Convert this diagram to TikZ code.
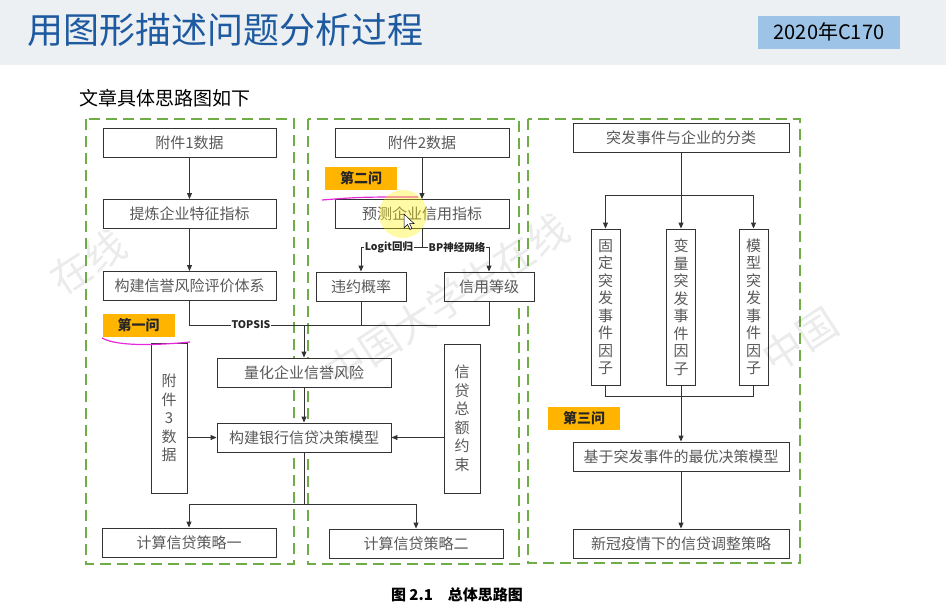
\documentclass[tikz,border=0pt]{standalone}
\usepackage{fontspec}
\setmainfont{Noto Sans CJK SC}
\usetikzlibrary{arrows.meta,positioning,calc}
\definecolor{headgray}{RGB}{236, 240, 243}
\definecolor{titleblue}{RGB}{30, 90, 160}
\definecolor{badgeblue}{RGB}{157, 195, 230}
\definecolor{groupgreen}{RGB}{112, 173, 71}
\definecolor{tagorange}{RGB}{255, 180, 0}
\definecolor{penpink}{RGB}{230, 40, 220}
\tikzset{
    box/.style={draw=black!80, line width=0.9pt, fill=white, text=black!65, minimum height=29pt, inner sep=0pt, font=\fontsize{15}{17}\selectfont},
    vbox/.style={box, align=center, font=\fontsize{15}{18.5}\selectfont},
    tag/.style={fill=tagorange, text=black!85, font=\fontsize{14}{16}\selectfont\bfseries, minimum width=72pt, minimum height=23pt, inner sep=0pt},
    group/.style={draw=groupgreen, line width=1.6pt, dash pattern=on 11pt off 6pt},
    link/.style={draw=black!80, line width=0.9pt},
    arr/.style={link, -{Triangle[length=6pt,width=5pt]}},
    lbl/.style={fill=white, inner sep=1pt, text=black!85, font=\fontsize{10.5}{12}\selectfont\bfseries},
    watermark/.style={rotate=33, text=black, text opacity=0.08, font=\fontsize{40}{42}\selectfont}
}
\begin{document}
\begin{tikzpicture}[x=1pt, y=-1pt]
    \useasboundingbox (0,0) rectangle (946,614);
    % header
    \fill[headgray] (0,0) rectangle (946,65);
    \node[anchor=west, text=titleblue, font=\fontsize{36}{38}\selectfont] (title) at (24,30) {用图形描述问题分析过程};
    \node[fill=badgeblue, minimum width=142pt, minimum height=33pt, inner sep=0pt, font=\fontsize{20}{22}\selectfont] (year) at (829,32) {2020年C170};
    \node[anchor=west, font=\fontsize{19}{21}\selectfont] (intro) at (76,98) {文章具体思路图如下};

    % three dashed groups
    \draw[group] (86,119) rectangle (294,564);
    \draw[group] (308,119) rectangle (519,564);
    \draw[group] (528,119) rectangle (800,563);

    % first question
    \node[box, minimum width=173pt] (fj1) at (189.5,142.5) {附件1数据};
    \node[box, minimum width=173pt] (tl) at (189.5,214) {提炼企业特征指标};
    \node[box, minimum width=173pt] (gj) at (189.5,286) {构建信誉风险评价体系};
    \node[tag] (q1) at (138.5,325.5) {第一问};

    % second question
    \node[box, minimum width=174pt] (fj2) at (422,142.5) {附件2数据};
    \node[tag] (q2) at (361,178.5) {第二问};
    \node[box, minimum width=174pt] (yc) at (422,214) {预测企业信用指标};
    \node[box, minimum width=90pt] (wy) at (361,286.5) {违约概率};
    \node[box, minimum width=90pt] (xy) at (489,286.5) {信用等级};

    % credit model
    \node[box, minimum width=174pt] (lh) at (304,372.5) {量化企业信誉风险};
    \node[box, minimum width=174pt] (jg) at (304,437.5) {构建银行信贷决策模型};
    \node[vbox, minimum width=36pt, minimum height=150pt] (fj3) at (169,418) {附\\件\\3\\数\\据};
    \node[vbox, minimum width=36pt, minimum height=149pt] (xd) at (462,418.5) {信\\贷\\总\\额\\约\\束};
    \node[box, minimum width=174pt] (cl1) at (189,542.5) {计算信贷策略一};
    \node[box, minimum width=174pt] (cl2) at (416,543.5) {计算信贷策略二};

    % third question
    \node[box, minimum width=216pt] (fl) at (681,137.5) {突发事件与企业的分类};
    \node[vbox, minimum width=29pt, minimum height=156pt, font=\fontsize{15}{17.5}\selectfont] (gd) at (605.5,307) {固\\定\\突\\发\\事\\件\\因\\子};
    \node[vbox, minimum width=29pt, minimum height=156pt, font=\fontsize{15}{17.5}\selectfont] (bl) at (681,307) {变\\量\\突\\发\\事\\件\\因\\子};
    \node[vbox, minimum width=29pt, minimum height=156pt, font=\fontsize{15}{17.5}\selectfont] (mx) at (753.5,307) {模\\型\\突\\发\\事\\件\\因\\子};
    \node[tag] (q3) at (584,418.5) {第三问};
    \node[box, minimum width=216pt] (jy) at (681,456.5) {基于突发事件的最优决策模型};
    \node[box, minimum width=216pt] (xg) at (681,543.5) {新冠疫情下的信贷调整策略};

    % connectors, left and middle
    \draw[arr] (fj1) -- (tl);
    \draw[arr] (tl) -- (gj);
    \coordinate (tp) at (304,325);
    \draw[link] (gj.south) |- (tp);
    \draw[link] (xy.south) |- (tp);
    \draw[link] (wy.south) -- (wy.south |- tp);
    \draw[arr] (tp) -- (lh.north);
    \node[lbl] (topsis) at (251,325) {TOPSIS};
    \draw[arr] (fj2.south -| yc.north) -- (yc.north);
    \coordinate (sp) at (422,247);
    \draw[link] (yc.south) -- (sp);
    \draw[arr] (sp) -| (wy.north);
    \draw[arr] (sp) -| (xy.north);
    \node[lbl] (logit) at (389,247) {Logit回归};
    \node[lbl] (bp) at (457,247) {BP神经网络};
    \draw[arr] (lh) -- (jg);
    \draw[arr] (fj3.east |- jg) -- (jg.west);
    \draw[arr] (xd.west |- jg) -- (jg.east);
    \coordinate (dv) at (304,504);
    \draw[link] (jg.south) -- (dv);
    \draw[arr] (dv) -| (cl1.north);
    \draw[arr] (dv) -| (cl2.north);

    % connectors, right
    \coordinate (t3) at (681,195);
    \draw[link] (fl.south) -- (t3);
    \draw[arr] (t3) -| (gd.north);
    \draw[arr] (t3) -- (bl.north);
    \draw[arr] (t3) -| (mx.north);
    \coordinate (b3) at (681,396);
    \draw[link] (gd.south) |- (b3);
    \draw[link] (mx.south) |- (b3);
    \draw[link] (bl.south) -- (b3);
    \draw[arr] (b3) -- (jy.north);
    \draw[arr] (jy) -- (xg);

    % pen marks and pointer
    \draw[penpink, line width=1.2pt] (102,338) .. controls (118,347) and (160,345) .. (190,342);
    \draw[penpink, line width=1.2pt] (322,200) .. controls (360,197) .. (418,197);
    \fill[yellow, opacity=0.35] (403,214) circle (24);
    \draw[fill=white, line width=0.5pt, shift={(404,214)}] (0,0) -- (0,14) -- (3.5,10.5) -- (6,15.5) -- (8,14.5) -- (5.5,9.5) -- (10,9.5) -- cycle;

    % caption
    \node[font=\fontsize{15}{17}\selectfont\bfseries] (cap) at (457,595) {图 2.1\quad 总体思路图};

    % watermarks
    \node[watermark] (wm1) at (447,300) {中国大学生在线};
    \node[watermark] (wm2) at (88,262) {在线};
    \node[watermark] (wm3) at (800,340) {中国};
\end{tikzpicture}
\end{document}
